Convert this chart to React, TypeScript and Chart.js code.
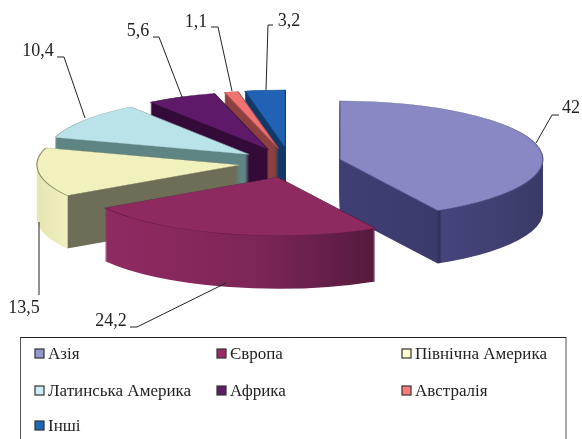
import React, { useEffect, useRef } from "react";
import { Chart, registerables } from "chart.js";

Chart.register(...registerables);

const categories = ["Азія", "Європа", "Північна Америка", "Латинська Америка", "Африка", "Австралія", "Інші"];
const shares = [42, 24.2, 13.5, 10.4, 5.6, 1.1, 3.2];
const valueLabels = ["42", "24,2", "13,5", "10,4", "5,6", "1,1", "3,2"];
const topColors = ["#8888C4", "#8F2A60", "#F1F1BE", "#B9E3E9", "#5E1A68", "#F07272", "#2262B4"];
const legendColors = ["#9696CE", "#962C66", "#FFFFCC", "#CCECF4", "#601A6A", "#FF7C7C", "#1E66B8"];
const edgeColors = ["#5A5A90", "#5A1A40", "#8E8E68", "#8FA8AC", "#3A1040", "#B05050", "#14406E"];

// Wall shading per slice: [screen x, colour] stops
const wallStops: [number, string][][] = [
  [[340, "#3F3F75"], [437, "#3A3A6C"], [439, "#2E2E58"], [442, "#45457C"], [545, "#3A3A68"]],
  [[105, "#902A62"], [250, "#7E2658"], [377, "#551A3E"]],
  [[39, "#E6E6B4"], [67, "#F0F0C0"], [68.5, "#6E6E58"], [242, "#6E6E58"]],
  [[60, "#5F8484"], [250, "#5F8484"]],
  [[150, "#330A38"], [280, "#330A38"]],
  [[230, "#8C4040"], [280, "#8C4040"]],
  [[247, "#103868"], [290, "#103868"]],
];
const paintOrder = [6, 5, 4, 3, 2, 0, 1];

const pie = { cx: 290.5, cy: 163, radius: 203, squash: 0.288, depth: 53, explode: 51 };

// Callouts: text centre then leader polyline, screen coordinates
const calloutText: [number, number][] = [[571, 108], [111, 321], [24, 308], [38, 51], [138, 31], [196, 22], [289, 21]];
const calloutLines: [number, number][][] = [
  [[559, 115], [552, 115], [536, 143]],
  [[130, 327], [137, 327], [226, 283]],
  [[39, 295], [39, 222]],
  [[57, 57], [64, 57], [85, 118]],
  [[153, 37], [159, 37], [182, 97]],
  [[211, 27], [218, 27], [232, 91]],
  [[273, 25], [268, 25], [266, 90]],
];

const legendBox = { left: 20.5, top: 337.5, right: 566, bottom: 445 };
const legendCols = [35, 217, 402];
const legendRows = [354, 391, 426];
const legendFont = '17px "Liberation Serif"';
const calloutFont = '18px "Liberation Serif"';

const piePlugin = {
  id: "extrudedPie",
  beforeDatasetsDraw(chart: any) {
    const ctx: CanvasRenderingContext2D = chart.ctx;
    const arcs = chart.getDatasetMeta(0).data;
    const place = (el: any, dy: number) => {
      const mid = (el.startAngle + el.endAngle) / 2 + Math.PI / 2;
      const ox = Math.sin(mid) * pie.explode;
      const oy = -Math.cos(mid) * pie.explode * pie.squash;
      ctx.translate(pie.cx + ox, pie.cy + oy + dy);
      ctx.scale(1, pie.squash);
      ctx.translate(-el.x, -el.y);
      return ox;
    };
    for (const i of paintOrder) {
      const el = arcs[i];
      const original = el.options;
      const mid = (el.startAngle + el.endAngle) / 2 + Math.PI / 2;
      const ox = Math.sin(mid) * pie.explode;
      const toLocal = (sx: number) => sx - pie.cx - ox + el.x;
      const stops = wallStops[i];
      const x0 = stops[0][0];
      const x1 = stops[stops.length - 1][0];
      const grad = ctx.createLinearGradient(toLocal(x0), 0, toLocal(x1), 0);
      stops.forEach(([x, c]) => grad.addColorStop((x - x0) / (x1 - x0), c));
      el.options = { ...original, backgroundColor: grad, borderWidth: 0 };
      for (let d = pie.depth; d > 0; d--) {
        ctx.save();
        place(el, d);
        el.draw(ctx);
        ctx.restore();
      }
      el.options = original;
      ctx.save();
      place(el, 0);
      el.draw(ctx);
      ctx.restore();
    }
    return false;
  },
  afterDraw(chart: any) {
    const ctx: CanvasRenderingContext2D = chart.ctx;
    ctx.save();
    ctx.strokeStyle = "#222";
    ctx.lineWidth = 1;
    calloutLines.forEach((pts) => {
      ctx.beginPath();
      pts.forEach(([x, y], k) => (k ? ctx.lineTo(x, y) : ctx.moveTo(x, y)));
      ctx.stroke();
    });
    ctx.fillStyle = "#222";
    ctx.font = calloutFont;
    ctx.textAlign = "center";
    ctx.textBaseline = "middle";
    valueLabels.forEach((t, i) => ctx.fillText(t, calloutText[i][0], calloutText[i][1]));

    ctx.strokeStyle = "#555";
    ctx.lineWidth = 1;
    ctx.strokeRect(legendBox.left, legendBox.top, legendBox.right - legendBox.left, legendBox.bottom - legendBox.top);
    ctx.beginPath();
    ctx.strokeStyle = "#222";
    ctx.moveTo(legendBox.left, legendBox.top);
    ctx.lineTo(legendBox.right, legendBox.top);
    ctx.stroke();
    ctx.font = legendFont;
    ctx.textAlign = "left";
    chart.data.labels.forEach((label: string, i: number) => {
      const x = legendCols[i % 3];
      const y = legendRows[Math.floor(i / 3)];
      ctx.fillStyle = legendColors[i];
      ctx.fillRect(x, y - 5, 9, 9);
      ctx.strokeStyle = "#333";
      ctx.lineWidth = 1.2;
      ctx.strokeRect(x, y - 5, 9, 9);
      ctx.fillStyle = "#222";
      ctx.fillText(label, x + 13, y + 1);
    });
    ctx.restore();
  },
};

export default function App() {
  const ref = useRef<HTMLCanvasElement | null>(null);
  useEffect(() => {
    const chart = new Chart(ref.current as HTMLCanvasElement, {
      type: "pie",
      data: {
        labels: categories,
        datasets: [{ data: shares, backgroundColor: topColors, borderColor: edgeColors, borderWidth: 1.2, radius: pie.radius } as any],
      },
      options: {
        responsive: false,
        animation: false,
        layout: { padding: 0 },
        plugins: { legend: { display: false }, tooltip: { enabled: false } },
      },
      plugins: [piePlugin as any],
    });
    return () => chart.destroy();
  }, []);
  return (
    <div style={{ position: "absolute", left: 0, top: 0, width: 582, height: 439, overflow: "hidden", background: "#fff" }}>
      <canvas ref={ref} width={582} height={439} style={{ display: "block" }} />
    </div>
  );
}
